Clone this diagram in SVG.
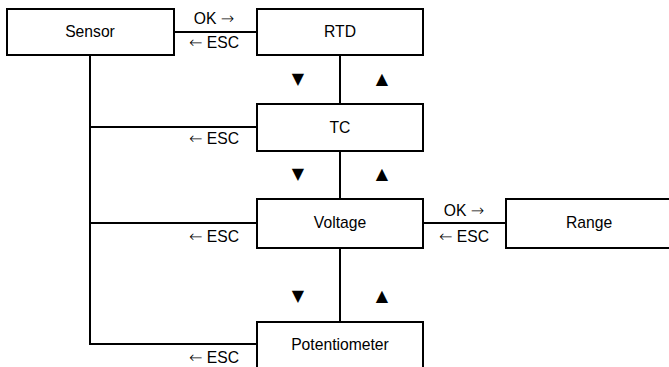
<svg xmlns="http://www.w3.org/2000/svg" width="669" height="367" viewBox="0 0 669 367">
<style>
.box{fill:#fff;stroke:#000;stroke-width:2}
.ln{fill:none;stroke:#000;stroke-width:2}
text{font-family:"Liberation Sans",Arial,sans-serif;font-size:15.7px;fill:#000}
.c{text-anchor:middle}
.ar{font-family:"DejaVu Sans",sans-serif;font-size:16px;font-weight:200}
.tri{font-family:"DejaVu Sans","Liberation Sans",sans-serif;font-size:16px;text-anchor:middle}
</style>
<rect width="669" height="367" fill="#fff"/>
<g id="connectors">
<path class="ln" d="M174 32H257"/>
<path class="ln" d="M90 55V344H257"/>
<path class="ln" d="M90 127H257"/>
<path class="ln" d="M90 223H257"/>
<path class="ln" d="M340 55V104"/>
<path class="ln" d="M340 151V199"/>
<path class="ln" d="M340 248V322"/>
<path class="ln" d="M423 223H506"/>
<text x="214" y="24" class="c">OK <tspan class="ar">→</tspan></text>
<text x="214" y="48" class="c"><tspan class="ar">←</tspan> ESC</text>
<text x="214" y="144" class="c"><tspan class="ar">←</tspan> ESC</text>
<text x="214" y="242" class="c"><tspan class="ar">←</tspan> ESC</text>
<text x="214" y="363" class="c"><tspan class="ar">←</tspan> ESC</text>
<text x="464" y="216" class="c">OK <tspan class="ar">→</tspan></text>
<text x="464" y="242" class="c"><tspan class="ar">←</tspan> ESC</text>
<text x="298" y="84" class="tri">▼</text>
<text x="382" y="84" class="tri">▲</text>
<text x="298" y="179" class="tri">▼</text>
<text x="382" y="179" class="tri">▲</text>
<text x="298" y="301" class="tri">▼</text>
<text x="382" y="301" class="tri">▲</text>
</g>
<g id="sensor"><rect class="box" x="7" y="9" width="167" height="46"/><text x="90" y="37" class="c">Sensor</text></g>
<g id="rtd"><rect class="box" x="257" y="9" width="166" height="46"/><text x="340" y="37" class="c">RTD</text></g>
<g id="tc"><rect class="box" x="257" y="104" width="166" height="47"/><text x="340" y="133" class="c">TC</text></g>
<g id="voltage"><rect class="box" x="257" y="199" width="166" height="49"/><text x="340" y="228" class="c">Voltage</text></g>
<g id="range"><rect class="box" x="506" y="199" width="166" height="49"/><text x="589" y="228" class="c">Range</text></g>
<g id="potentiometer"><rect class="box" x="257" y="322" width="166" height="50"/><text x="340" y="350" class="c">Potentiometer</text></g>
</svg>
